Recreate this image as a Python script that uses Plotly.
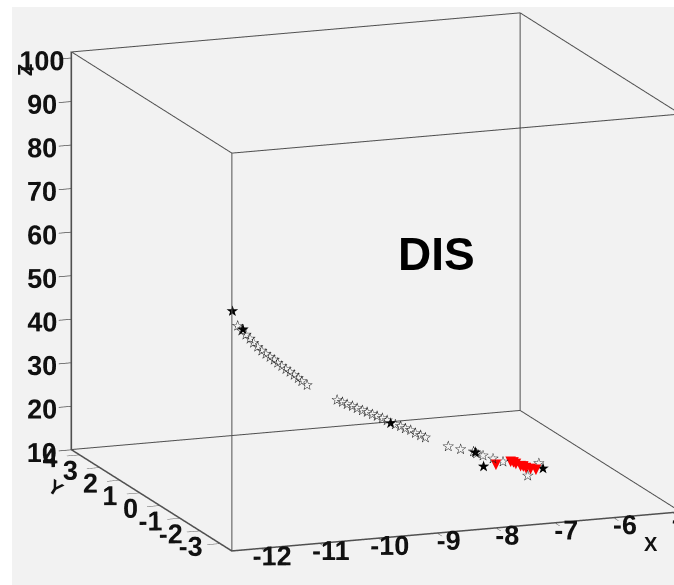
import plotly.graph_objects as go

# open-star hits
open_x = [-11.00, -10.93, -10.86, -10.79, -10.73, -10.66, -10.59, -10.52, -10.45, -10.38,
          -10.32, -10.25, -10.18, -10.11, -10.04, -9.97, -9.91, -9.82,
          -9.31, -9.22, -9.14, -9.05, -8.97, -8.88, -8.80, -8.71, -8.63, -8.54,
          -8.46, -8.32, -8.23, -8.15, -8.06, -7.98, -7.89, -7.81,
          -7.42, -7.21, -6.99, -6.94, -6.83, -6.66, -6.49, -5.88, -6.41]
open_y = [0.5] * 44 + [-0.5]
open_z = [48.2, 47.0, 46.0, 45.0, 44.0, 43.0, 42.0, 41.2, 40.4, 39.7,
          38.9, 38.1, 37.3, 36.6, 35.8, 35.0, 34.2, 33.2,
          29.2, 28.6, 28.0, 27.5, 26.9, 26.3, 25.8, 25.2, 24.7, 24.1,
          23.5, 22.4, 21.9, 21.3, 20.8, 20.0, 19.4, 18.8,
          16.3, 15.4, 14.6, 14.1, 13.5, 12.6, 11.7, 10.6, 11.3]

# filled-star hits
fill_x = [-11.09, -10.91, -8.40, -6.82, -5.98, -6.96]
fill_y = [0.5, 0.5, 0.5, 0.5, 0.0, 0.5]
fill_z = [51.7, 47.3, 22.8, 11.0, 11.0, 14.4]

# red triangles
red_x = [-6.61, -6.36, -6.27, -6.19, -6.27, -6.19, -6.10, -6.31, -6.23]
red_y = [0.5, 0.5, 0.5, 0.5, 0.0, 0.0, 0.0, 0.5, 0.25]
red_z = [11.0, 11.4, 10.8, 10.2, 11.3, 11.0, 10.7, 11.2, 10.9]

x_range = [-12.5, -4.86]
y_range = [-3.6, 4.4]
z_range = [10, 101.5]
x_ticks = [-12, -11, -10, -9, -8, -7, -6, -5]
y_ticks = [-3, -2, -1, 0, 1, 2, 3, 4]
z_ticks = [10, 20, 30, 40, 50, 60, 70, 80, 90, 100]

fig = go.Figure()

# frame of the 3D box (12 edges), from the axis ranges, pulled in by a hair
ex_ = (x_range[1] - x_range[0]) * 0.001
ey_ = (y_range[1] - y_range[0]) * 0.001
ez_ = (z_range[1] - z_range[0]) * 0.001
x0, x1 = x_range[0] + ex_, x_range[1] - ex_
y0, y1 = y_range[0] + ey_, y_range[1] - ey_
z0, z1 = z_range[0] + ez_, z_range[1] - ez_
edges = [((x0, y0, z0), (x1, y0, z0)), ((x0, y1, z0), (x1, y1, z0)),
         ((x0, y0, z1), (x1, y0, z1)), ((x0, y1, z1), (x1, y1, z1)),
         ((x0, y0, z0), (x0, y1, z0)), ((x1, y0, z0), (x1, y1, z0)),
         ((x0, y0, z1), (x0, y1, z1)), ((x1, y0, z1), (x1, y1, z1)),
         ((x0, y0, z0), (x0, y0, z1)), ((x1, y0, z0), (x1, y0, z1)),
         ((x0, y1, z0), (x0, y1, z1)), ((x1, y1, z0), (x1, y1, z1))]
for a, b in edges:
    fig.add_trace(go.Scatter3d(x=[a[0], b[0]], y=[a[1], b[1]], z=[a[2], b[2]],
                               mode="lines", line=dict(color="#505050", width=2),
                               showlegend=False, hoverinfo="skip"))

fig.add_trace(go.Scatter3d(x=open_x, y=open_y, z=open_z, mode="text",
                           text=["☆"] * len(open_x), textposition="middle center",
                           textfont=dict(family="DejaVu Sans", size=15, color="#1a1a1a"),
                           showlegend=False, hoverinfo="skip"))
fig.add_trace(go.Scatter3d(x=red_x, y=red_y, z=red_z, mode="text",
                           text=["▼"] * len(red_x), textposition="middle center",
                           textfont=dict(family="DejaVu Sans", size=14, color="#ff0000"),
                           showlegend=False, hoverinfo="skip"))
fig.add_trace(go.Scatter3d(x=fill_x, y=fill_y, z=fill_z, mode="text",
                           text=["★"] * len(fill_x), textposition="middle center",
                           textfont=dict(family="DejaVu Sans", size=15, color="#000"),
                           showlegend=False, hoverinfo="skip"))

tickfont = dict(family="Liberation Sans", size=18, color="#111", weight="bold")
titlefont = dict(family="Liberation Sans", size=20, color="#111", weight="bold")
axis_common = dict(showgrid=False, zeroline=False, showbackground=False,
                   showline=True, linecolor="#505050", linewidth=2,
                   ticks="outside", ticklen=13, tickcolor="#505050",
                   tickwidth=1.5, tickfont=tickfont, tickangle=0, showspikes=False,
                   title=dict(text=""))

k = 1.418
px, py, pz = -0.1025, 0.0520, -0.0538
d = 2.0
fig.update_layout(
    width=674, height=585,
    margin=dict(l=12, r=0, t=7, b=0),
    paper_bgcolor="white",
    scene=dict(
        bgcolor="#f2f2f2",
        xaxis=dict(range=x_range, tickvals=x_ticks, ticktext=[str(v) for v in x_ticks], **axis_common),
        yaxis=dict(range=y_range, tickvals=y_ticks, ticktext=[str(v) for v in y_ticks], **axis_common),
        zaxis=dict(range=z_range, tickvals=z_ticks, ticktext=[str(v) for v in z_ticks], **axis_common),
        aspectmode="manual",
        aspectratio=dict(x=1.17 * k, y=1.125 * k, z=1.0 * k),
        camera=dict(projection=dict(type="orthographic"),
                    eye=dict(x=px - 0.3385 * d, y=py - 0.911 * d, z=pz + 0.2345 * d),
                    center=dict(x=px, y=py, z=pz),
                    up=dict(x=0, y=0, z=1)),
        annotations=[
            dict(x=x_range[0], y=y_range[1], z=z_range[0], text="Y", showarrow=False,
                 xshift=-15, yshift=-38, textangle=32, font=titlefont),
        ],
    ),
    annotations=[
        dict(text="DIS", x=0.6415, y=0.572, xref="paper", yref="paper",
             showarrow=False, font=dict(family="Liberation Sans", size=46,
                                        color="black", weight="bold")),
        dict(text="Z", x=0.0, y=0.905, xref="paper", yref="paper", textangle=-90,
             showarrow=False, font=titlefont),
        dict(text="X", x=0.979, y=0.048, xref="paper", yref="paper",
             showarrow=False, font=titlefont),
    ],
)
fig.write_html("out.html")
